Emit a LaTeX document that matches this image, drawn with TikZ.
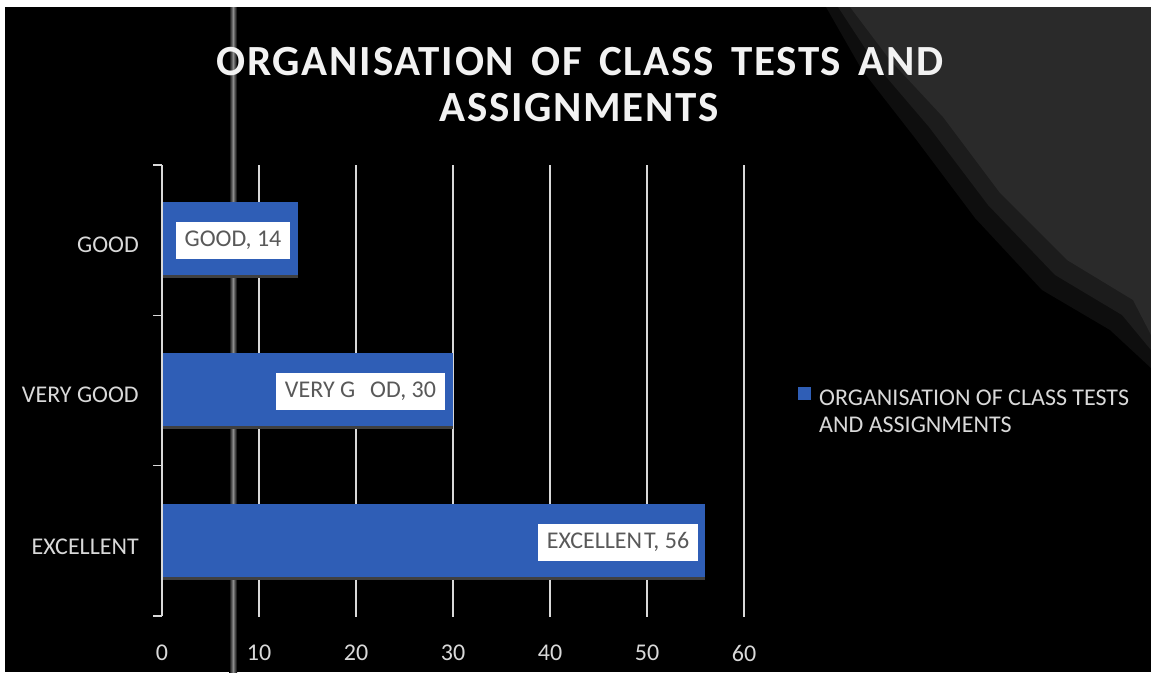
\documentclass[tikz,border=0pt]{standalone}
\usepackage{fontspec}
\setmainfont{Carlito}
\usetikzlibrary{positioning}

\definecolor{barblue}{RGB}{47,94,182}
\definecolor{barshade}{RGB}{64,64,64}
\definecolor{labgrey}{RGB}{89,89,89}
\definecolor{axisgrey}{RGB}{217,217,217}
\definecolor{titlegrey}{RGB}{242,242,242}
\definecolor{haze}{RGB}{42,42,42}
\definecolor{hazemid}{RGB}{28,28,28}
\definecolor{hazeedge}{RGB}{14,14,14}

\newcommand{\chartfont}{\fontsize{24}{27}\selectfont}

\tikzset{
  catlabel/.style={anchor=east, text=axisgrey, font=\chartfont, inner sep=0pt},
  ticklabel/.style={text=axisgrey, font=\chartfont, inner sep=0pt},
  databox/.style={fill=white, text=labgrey, font=\chartfont, inner sep=0pt,
                  minimum height=37pt},
  gridline/.style={draw=axisgrey, line width=1.6pt},
  axisline/.style={draw=axisgrey, line width=1.6pt},
  charttitle/.style={text=titlegrey, inner sep=0pt,
                  font=\fontsize{43}{50}\bfseries\selectfont\addfontfeatures{LetterSpace=4}}
}

\begin{document}
\begin{tikzpicture}[x=1pt,y=-1pt]
  \useasboundingbox (0,0) rectangle (1151,672);
  % background
  \fill[white] (0,0) rectangle (1151,672);
  \fill[black] (5,7) rectangle (1151,672);
  \fill[hazeedge] (826,7) -- (1151,7) -- (1151,368) -- (1110,330) -- (1042,290)
                  -- (975,218) -- (915,138) -- (862,70) -- cycle;
  \fill[hazemid] (838,7) -- (1151,7) -- (1151,350) -- (1122,315) -- (1055,275)
                 -- (988,205) -- (929,127) -- (876,65) -- cycle;
  \fill[haze] (850,7) -- (1151,7) -- (1151,335) -- (1133,300) -- (1067,260)
              -- (1000,193) -- (943,117) -- (890,60) -- cycle;
  \shade[left color=black, right color=black, middle color=black!45!white]
        (229,7) rectangle (237,672);

  % title
  \node[charttitle] (title1) at (580,62)
        {\makebox[727pt][s]{ORGANISATION OF CLASS TESTS AND}};
  \node[charttitle] (title2) at (579,108) {ASSIGNMENTS};

  % grid
  \foreach \v in {10,20,...,60}
    \draw[gridline] ({162+9.7*\v},165) -- ({162+9.7*\v},617);
  \foreach \v in {0,10,...,60}
    \node[ticklabel] (tick\v) at ({162+9.7*\v},653) {\v};

  % bars
  \foreach \top/\val in {202/14, 353/30, 504/56} {
    \fill[barblue] (163,\top) rectangle ({162+9.7*\val},\top+73);
    \fill[barshade] (163,\top+73) rectangle ({162+9.7*\val},\top+76);
  }

  % category axis
  \draw[axisline] (162,165) -- (162,616);
  \foreach \y in {165,315.3,465.6,616}
    \draw[axisline] (153,\y) -- (162,\y);
  \node[catlabel] (good) at (139,245) {GOOD};
  \node[catlabel] (verygood) at (139,395) {VERY GOOD};
  \node[catlabel] (excellent) at (139,547) {EXCELLENT};

  % data labels
  \node[databox, minimum width=114pt] (goodval) at (233,240.5) {GOOD, 14};
  \node[databox, minimum width=169pt] (verygoodval) at (360.5,391)
        {VERY G\kern15pt OD, 30};
  \node[databox, minimum width=160pt] (excellentval) at (618,542)
        {EXCELLEN\kern2pt T, 56};

  % legend
  \fill[barblue] (798,387) rectangle (811,400);
  \node[anchor=west, text=axisgrey, font=\chartfont, inner sep=0pt, align=left]
        (legend) at (819,411) {ORGANISATION OF CLASS TESTS\\AND ASSIGNMENTS};
\end{tikzpicture}
\end{document}
